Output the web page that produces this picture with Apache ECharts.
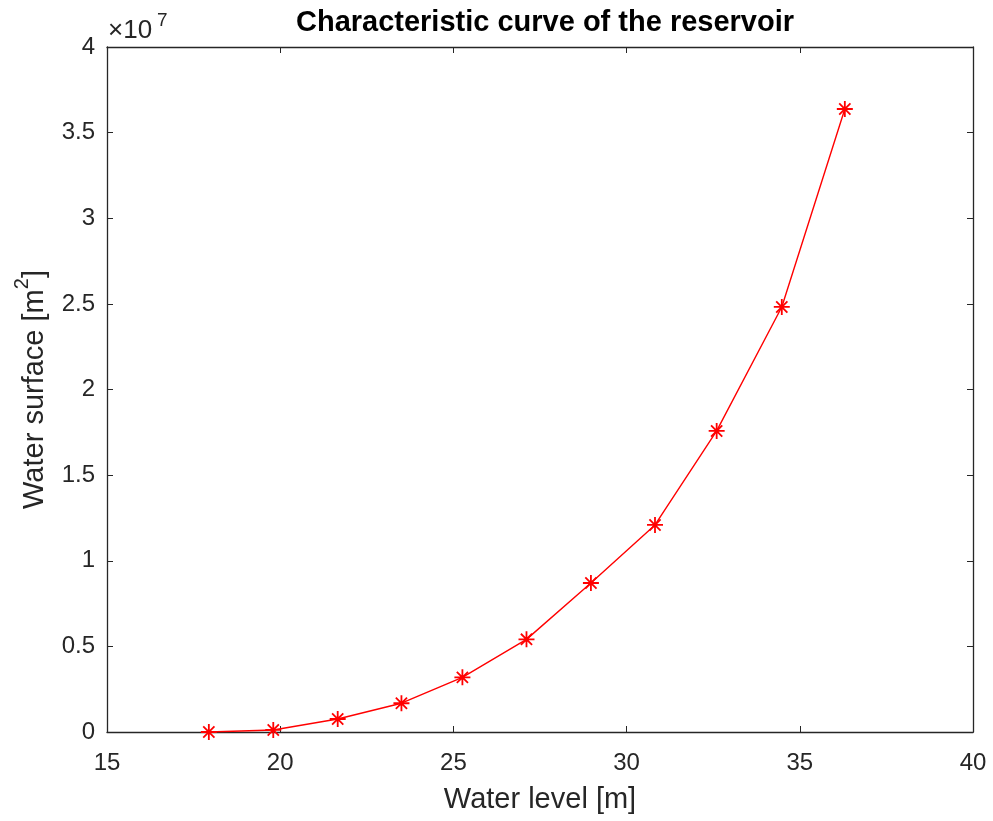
<!DOCTYPE html>
<html>
<head>
<meta charset="utf-8">
<script src="https://cdn.jsdelivr.net/npm/echarts@6/dist/echarts.min.js"></script>
<style>
    html, body { margin: 0; padding: 0; background: #fff; }
    #chart { width: 993px; height: 821px; }
</style>
</head>
<body>
<div id="chart"></div>
<script>
    // water level [m]
    var waterLevel = [17.94, 19.80, 21.66, 23.50, 25.26, 27.11, 28.97, 30.82, 32.60, 34.48, 36.30];
    // water surface [m^2]
    var waterSurface = [0, 0.12e6, 0.76e6, 1.68e6, 3.19e6, 5.41e6, 8.70e6, 12.09e6, 17.58e6, 24.82e6, 36.38e6];

    var axisColor = '#262626';
    var font = 'Liberation Sans, Arial, Helvetica, sans-serif';

    // matlab style asterisk (+ and x)
    var asterisk = 'path://M0,-10L0,10M-10,0L10,0M-7,-7L7,7M-7,7L7,-7';

    var points = [];
    for (var i = 0; i < waterLevel.length; i++) {
        points.push([waterLevel[i], waterSurface[i]]);
    }

    var chart = echarts.init(document.getElementById('chart'));
    chart.setOption({
        animation: false,
        backgroundColor: '#fff',
        title: {
            text: 'Characteristic curve of the reservoir',
            left: 540,
            textAlign: 'center',
            top: 3,
            textStyle: { fontFamily: font, fontSize: 29, fontWeight: 'bold', color: '#000' }
        },
        graphic: [{
            type: 'text',
            x: 108, y: 31,
            style: { text: '\u00d710', fontFamily: font, fontSize: 26, fill: axisColor, verticalAlign: 'middle' }
        }, {
            type: 'text',
            x: 157, y: 21,
            style: { text: '7', fontFamily: font, fontSize: 19, fill: axisColor, verticalAlign: 'middle' }
        }],
        grid: { left: 107, right: 20, top: 47, bottom: 89 },
        xAxis: [{
            type: 'value',
            min: 15, max: 40, interval: 5,
            name: 'Water level [m]',
            nameLocation: 'middle',
            nameGap: 53,
            nameTextStyle: { fontFamily: font, fontSize: 29, color: axisColor },
            axisLine: { show: true, onZero: false, lineStyle: { color: axisColor, width: 1.3 } },
            axisTick: { inside: true, length: 6, lineStyle: { color: axisColor } },
            axisLabel: { fontFamily: font, fontSize: 24, color: axisColor, margin: 19 },
            splitLine: { show: false }
        }, {
            type: 'value',
            position: 'top',
            min: 15, max: 40, interval: 5,
            axisLine: { show: true, onZero: false, lineStyle: { color: axisColor, width: 1.3 } },
            axisTick: { inside: true, length: 6, lineStyle: { color: axisColor } },
            axisLabel: { show: false },
            splitLine: { show: false }
        }],
        yAxis: [{
            type: 'value',
            min: 0, max: 4e7, interval: 0.5e7,
            name: '{a|Water surface [m}{sup|2}{a|]}',
            nameLocation: 'middle',
            nameGap: 58,
            nameTextStyle: {
                fontFamily: font, fontSize: 29, color: axisColor,
                rich: {
                    a: { fontFamily: font, fontSize: 29, color: axisColor, lineHeight: 37, verticalAlign: 'bottom' },
                    sup: { fontFamily: font, fontSize: 20, color: axisColor, lineHeight: 20, verticalAlign: 'top' }
                }
            },
            axisLine: { show: true, onZero: false, lineStyle: { color: axisColor, width: 1.3 } },
            axisTick: { inside: true, length: 6, lineStyle: { color: axisColor } },
            axisLabel: {
                fontFamily: font, fontSize: 24, color: axisColor, margin: 12,
                formatter: function (v) { return String(Math.round(v / 1e6) / 10); }
            },
            splitLine: { show: false }
        }, {
            type: 'value',
            position: 'right',
            min: 0, max: 4e7, interval: 0.5e7,
            axisLine: { show: true, onZero: false, lineStyle: { color: axisColor, width: 1.3 } },
            axisTick: { inside: true, length: 6, lineStyle: { color: axisColor } },
            axisLabel: { show: false },
            splitLine: { show: false }
        }],
        series: [{
            type: 'line',
            data: points,
            symbol: asterisk,
            symbolSize: 16,
            showAllSymbol: true,
            lineStyle: { color: '#ff0000', width: 1.4 },
            itemStyle: { color: '#ff0000', borderColor: '#ff0000', borderWidth: 1.8 }
        }]
    });
</script>
</body>
</html>
